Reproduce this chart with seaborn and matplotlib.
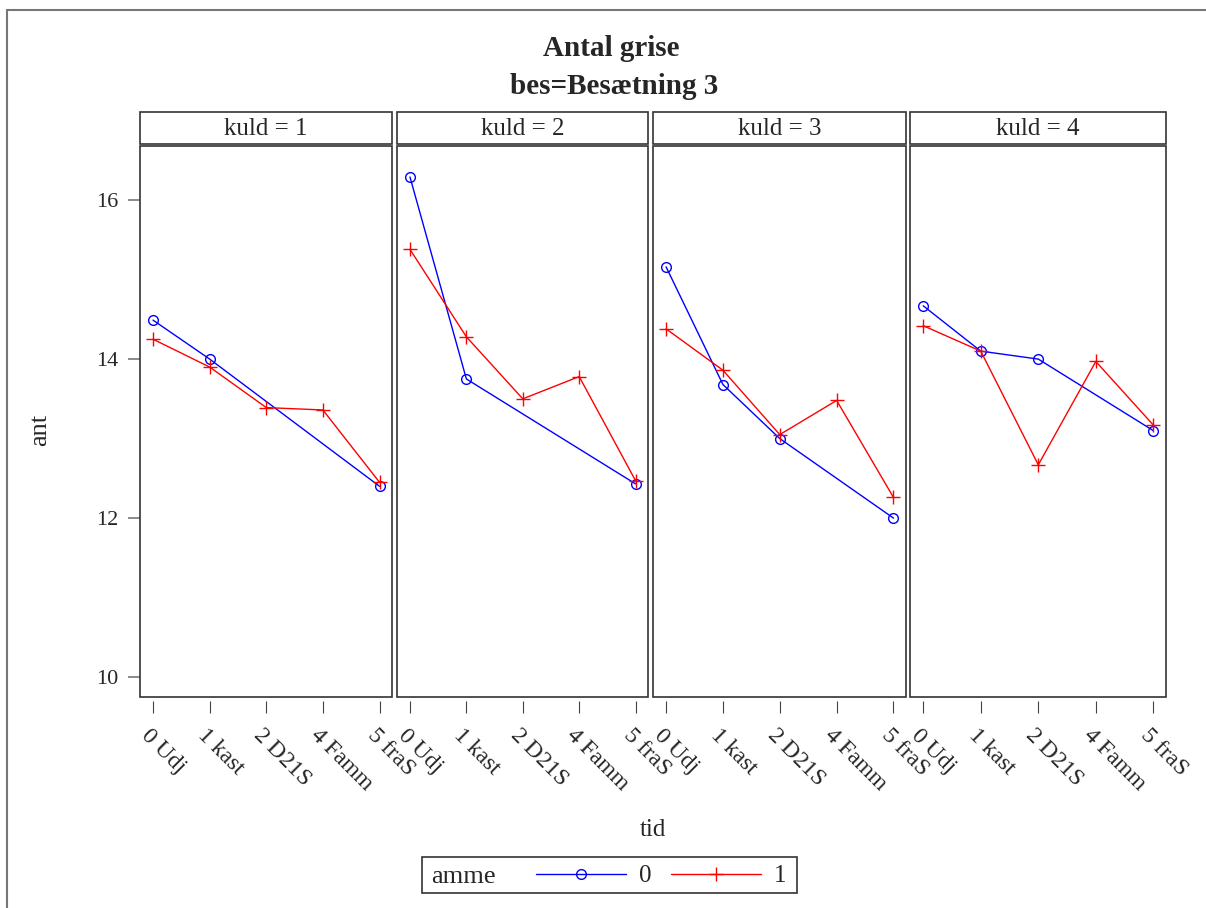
import numpy as np
import pandas as pd
import matplotlib
matplotlib.use("Agg")
import matplotlib.pyplot as plt
import matplotlib.transforms as mtransforms
from matplotlib.patches import Rectangle
from matplotlib.lines import Line2D
import seaborn as sns

# data
tid = ["0 Udj", "1 kast", "2 D21S", "4 Famm", "5 fraS"]
kuld = [1, 2, 3, 4]
nan = np.nan
amme0 = [
    [14.49, 14.00, nan, nan, 12.40],
    [16.29, 13.75, nan, nan, 12.43],
    [15.16, 13.68, 13.00, nan, 12.00],
    [14.67, 14.10, 14.00, nan, 13.10],
]
amme1 = [
    [14.25, 13.90, 13.39, 13.36, 12.45],
    [15.38, 14.28, 13.50, 13.78, 12.47],
    [14.38, 13.86, 13.05, 13.48, 12.26],
    [14.42, 14.10, 12.67, 13.97, 13.17],
]

rows = []
for k, v0, v1 in zip(kuld, amme0, amme1):
    for i, t in enumerate(tid):
        rows.append({"kuld": k, "tid": t, "pos": i, "amme": "0", "ant": v0[i]})
        rows.append({"kuld": k, "tid": t, "pos": i, "amme": "1", "ant": v1[i]})
df = pd.DataFrame(rows).dropna()

sns.set_theme(style="white")
plt.rcParams["font.family"] = ["Liberation Serif", "DejaVu Serif"]

W, H = 1206, 908
fig = plt.figure(figsize=(W / 100, H / 100), dpi=100)

def fx(x):
    return x / W

def fy(y):
    return 1 - y / H

# panel pixel boxes
panels = [(140, 392), (397, 648), (653, 906), (910, 1166)]
top, bottom = 146, 697
colors = {"0": "#0000ff", "1": "#ff0000"}
markers = {"0": "o", "1": "+"}
msizes = {"0": 7, "1": 10}

axes = []
for j, (x0, x1) in enumerate(panels):
    ax = fig.add_axes([fx(x0), fy(bottom), (x1 - x0) / W, (bottom - top) / H])
    for a in ["0", "1"]:
        sub = df[(df["kuld"] == kuld[j]) & (df["amme"] == a)]
        sns.lineplot(data=sub, x="pos", y="ant", color=colors[a],
                     marker=markers[a], markersize=msizes[a], mfc="none",
                     mec=colors[a], mew=1.0, linewidth=1.0, label=a, ax=ax)
    ax.set_xlim(-0.23, 4.22)
    ax.set_ylim(9.75, 16.68)
    ax.set_xlabel("")
    ax.set_ylabel("")
    for s in ax.spines.values():
        s.set_visible(False)
    ax.spines["bottom"].set_position(("outward", 3))
    ax.tick_params(axis="x", bottom=True, length=8.6, width=0.8,
                   color="#444444", pad=14)
    if j == 0:
        ax.set_yticks([10, 12, 14, 16])
        ax.tick_params(axis="y", left=True, length=8.6, width=1.2,
                       color="#777777", pad=7, labelsize=16)
    else:
        ax.set_yticks([])
    ax.set_xticks(range(len(tid)))
    ax.set_xticklabels(tid, fontsize=17)
    off = mtransforms.ScaledTranslation(-0.09, 0, fig.dpi_scale_trans)
    for lab in ax.get_xticklabels():
        lab.set_rotation(-45)
        lab.set_rotation_mode("anchor")
        lab.set_ha("left")
        lab.set_va("center")
        lab.set_transform(lab.get_transform() + off)
    ax.add_patch(Rectangle((0, 0), 1, 1, transform=ax.transAxes, fill=False,
                           edgecolor="#333333", linewidth=1.2, clip_on=False))
    # strip header
    fig.add_artist(Rectangle((fx(x0), fy(144)), (x1 - x0) / W, 32 / H,
                             fill=False, edgecolor="#333333", linewidth=1.2))
    fig.text(fx((x0 + x1) / 2), fy(129), f"kuld = {kuld[j]}",
             ha="center", va="center", fontsize=18)
    axes.append(ax)

handles, labels = axes[0].get_legend_handles_labels()
for ax in axes:
    if ax.get_legend() is not None:
        ax.get_legend().remove()

# titles and axis labels
fig.text(fx(611), fy(48), "Antal grise", ha="center", va="center",
         fontsize=21, fontweight="bold")
fig.text(fx(614), fy(87), "bes=Besætning 3", ha="center", va="center",
         fontsize=21, fontweight="bold")
fig.text(fx(653), fy(830), "tid", ha="center", va="center", fontsize=18)
fig.text(fx(40), fy(430), "ant", ha="center", va="center", fontsize=19,
         rotation=90)

# legend box
fig.add_artist(Rectangle((fx(422), fy(893)), (797 - 422) / W, 36 / H,
                         fill=False, edgecolor="#333333", linewidth=1.2))
fig.text(fx(431), fy(877), "amme", ha="left", va="center", fontsize=19)
fig.legend(handles, labels, loc="center left",
           bbox_to_anchor=(fx(536), fy(876)), ncol=2, frameon=False,
           fontsize=18, handlelength=3.6, handletextpad=0.5,
           columnspacing=0.8, borderpad=0, borderaxespad=0)

# outer frame
fig.add_artist(Line2D([fx(7), 1], [fy(10), fy(10)], color="#777777", lw=1.5))
fig.add_artist(Line2D([fx(7), fx(7)], [fy(10), 0], color="#777777", lw=1.5))

fig.savefig("out.png", dpi=100)
